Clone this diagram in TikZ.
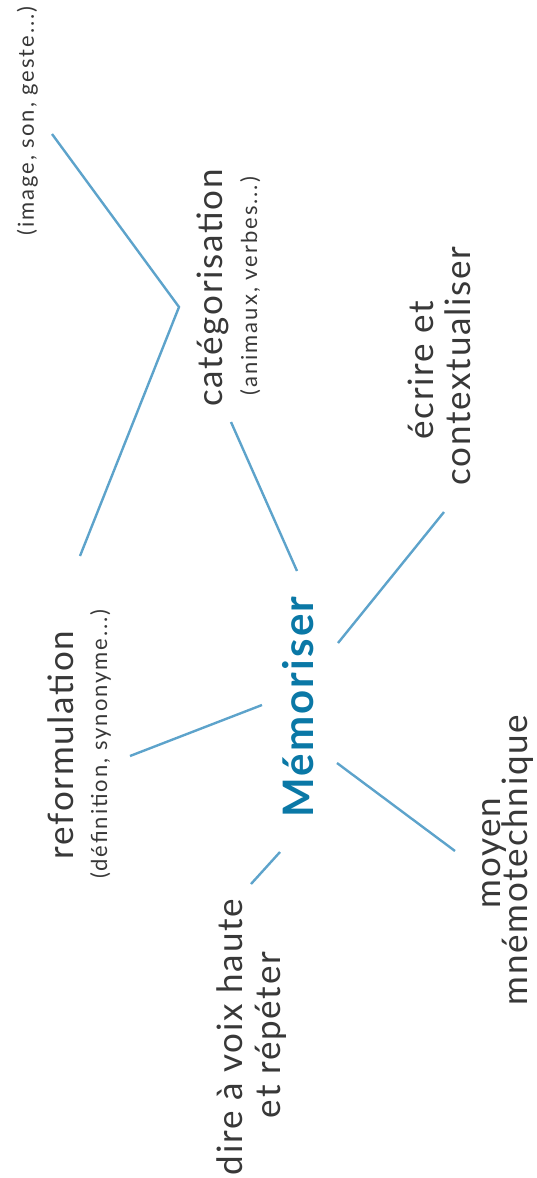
\documentclass[tikz,border=0pt]{standalone}
\usepackage{fontspec}
\setmainfont{Lato}[LetterSpace=5]
\newfontfamily\subfont{Lato}[LetterSpace=9]
\definecolor{linkblue}{HTML}{5DA3CB}
\definecolor{titleblue}{HTML}{0A78A6}
\definecolor{ink}{HTML}{383838}
\begin{document}
\begin{tikzpicture}[x=1pt,y=-1pt,
  lbl/.style={rotate=90,anchor=base,inner sep=0pt,text=ink,font=\fontsize{35}{40}\selectfont},
  sublbl/.style={lbl,font=\subfont\fontsize{22}{26}\selectfont},
  titlelbl/.style={lbl,text=titleblue,font=\fontsize{42}{46}\selectfont\bfseries},
  link/.style={draw=linkblue,line width=2.4pt}]
\useasboundingbox (0,0) rectangle (536,1178);

% labels
\node[titlelbl] (mem) at (313,707) {Mémoriser};
\node[sublbl] (img) at (34,121) {(image, son, geste...)};
\node[lbl] (cat) at (222,288) {catégorisation};
\node[sublbl] (catsub) at (257,286) {(animaux, verbes...)};
\node[lbl] (ecr1) at (433,370) {écrire et};
\node[lbl] (ecr2) at (470,366) {contextualiser};
\node[lbl] (ref) at (73,745) {reformulation};
\node[sublbl] (refsub) at (107,744) {(définition, synonyme...)};
\node[lbl] (dire1) at (242,1037) {dire à voix haute};
\node[lbl] (dire2) at (280,1035) {et répéter};
\node[lbl] (moy1) at (500,853) {moyen};
\node[lbl] (moy2) at (527,860) {mnémotechnique};

% connector ends
\coordinate (memN) at (297,571);
\coordinate (catS) at (231,422);
\coordinate (memNE) at (338,643);
\coordinate (ecrW) at (444,512);
\coordinate (memW) at (262,705);
\coordinate (refE) at (130,756);
\coordinate (memSW) at (280,852);
\coordinate (direN) at (251,884);
\coordinate (memSE) at (337,763);
\coordinate (moyN) at (455,851);
\coordinate (refN) at (80,556);
\coordinate (bend) at (179,307);
\coordinate (imgS) at (52,134);

\draw[link] (memN) -- (catS);
\draw[link] (memNE) -- (ecrW);
\draw[link] (memW) -- (refE);
\draw[link] (memSW) -- (direN);
\draw[link] (memSE) -- (moyN);
\draw[link,line join=miter] (refN) -- (bend) -- (imgS);
\end{tikzpicture}
\end{document}
